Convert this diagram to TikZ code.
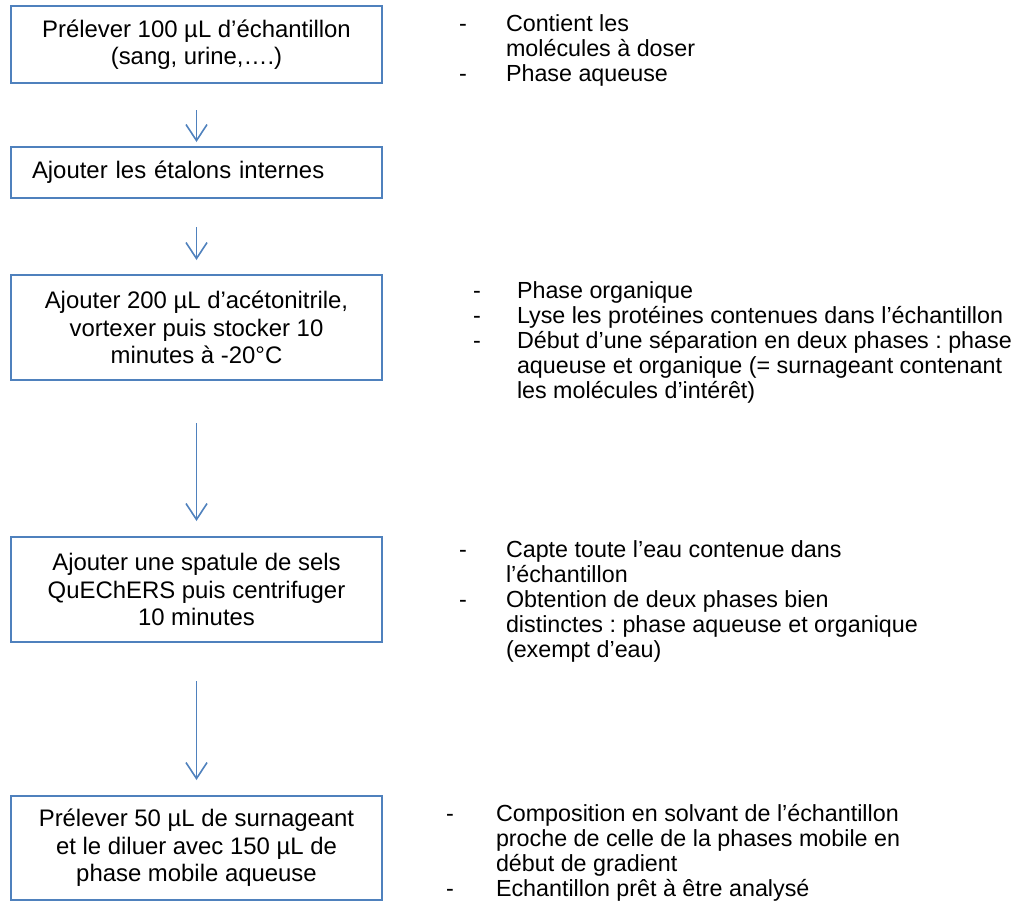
\documentclass[tikz,border=0pt]{standalone}
\usepackage{fontspec}
\setmainfont{Liberation Sans}
\usetikzlibrary{arrows.meta}
\definecolor{obl}{HTML}{4F81BD}
\frenchspacing
\newcommand\boxfont{\fontsize{23.9}{27.6}\selectfont}
\newcommand\sidefont{\fontsize{23.3}{25}\selectfont}
\tikzset{
  stepbox/.style={draw=obl, line width=2.6pt, minimum width=371pt, inner sep=0pt, outer sep=0pt, align=center, font=\boxfont, text=black},
  arr/.style={draw=obl, line width=1.6pt, -{Straight Barb[length=16pt,width=21pt]}},
  side/.style={anchor=base west, inner sep=0pt, outer sep=0pt, font=\sidefont, text=black}
}
\begin{document}
\begin{tikzpicture}[x=1pt,y=-1pt]
\useasboundingbox (0,0) rectangle (1024,903);
% boxes
\node[stepbox, minimum height=77pt] (b1) at (196.5,44.5) {Prélever 100 µL d’échantillon\\(sang, urine,….)};
\node[stepbox, minimum height=51pt, align=left, text width=329pt, inner xsep=21pt] (b2) at (196.5,172.5) {Ajouter les étalons internes};
\node[stepbox, minimum height=105pt] (b3) at (196.5,327.5) {Ajouter 200 µL d’acétonitrile,\\vortexer puis stocker 10\\minutes à -20°C};
\node[stepbox, minimum height=105pt] (b4) at (196.5,589.5) {Ajouter une spatule de sels\\QuEChERS puis centrifuger\\10 minutes};
\node[stepbox, minimum height=104pt] (b5) at (196.5,848) {Prélever 50 µL de surnageant\\et le diluer avec 150 µL de\\phase mobile aqueuse};
% arrows
\draw[arr] ([yshift=-27pt]b1.south) -- ([yshift=5pt]b2.north);
\draw[arr] ([yshift=-29pt]b2.south) -- ([yshift=15pt]b3.north);
\draw[arr] ([yshift=-43pt]b3.south) -- ([yshift=16pt]b4.north);
\draw[arr] ([yshift=-39pt]b4.south) -- ([yshift=16pt]b5.north);
% block 1
\node[side] (d11) at (459,31.7) {-};
\node[side] (t11) at (506,31.7) {Contient les};
\node[side] (t12) at (506,56.7) {molécules à doser};
\node[side] (d12) at (459,81.7) {-};
\node[side] (t13) at (506,81.7) {Phase aqueuse};
% block 3
\node[side] (d31) at (473,298) {-};
\node[side] (t31) at (517,298) {Phase organique};
\node[side] (d32) at (473,323) {-};
\node[side] (t32) at (517,323) {Lyse les protéines contenues dans l’échantillon};
\node[side] (d33) at (473,348) {-};
\node[side] (t33) at (517,348) {Début d’une séparation en deux phases : phase};
\node[side] (t34) at (517,373) {aqueuse et organique (= surnageant contenant};
\node[side] (t35) at (517,398) {les molécules d’intérêt)};
% block 4
\node[side] (d41) at (459,557) {-};
\node[side] (t41) at (506,557) {Capte toute l’eau contenue dans};
\node[side] (t42) at (506,582) {l’échantillon};
\node[side] (d42) at (459,607) {-};
\node[side] (t43) at (506,607) {Obtention de deux phases bien};
\node[side] (t44) at (506,632) {distinctes : phase aqueuse et organique};
\node[side] (t45) at (506,657) {(exempt d’eau)};
% block 5
\node[side] (d51) at (446,821) {-};
\node[side] (t51) at (496,821) {Composition en solvant de l’échantillon};
\node[side] (t52) at (496,846) {proche de celle de la phases mobile en};
\node[side] (t53) at (496,871) {début de gradient};
\node[side] (d52) at (446,896) {-};
\node[side] (t54) at (496,896) {Echantillon prêt à être analysé};
\end{tikzpicture}
\end{document}
